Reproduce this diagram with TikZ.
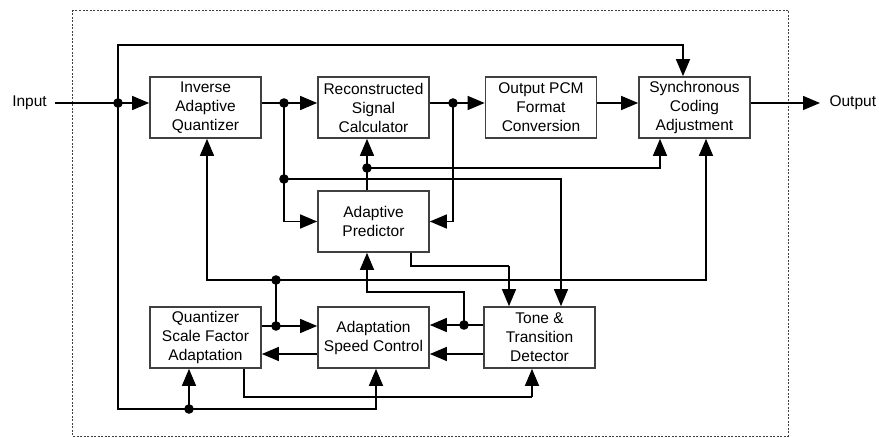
\documentclass[tikz,border=0pt]{standalone}
\usepackage{fontspec}
\setmainfont{Liberation Sans}
\usepackage{tikz}
\usetikzlibrary{calc, arrows.meta, positioning}
\definecolor{boxGray}{gray}{0.25}

\begin{document}
\begin{tikzpicture}[x=1pt, y=-1pt, >={Triangle[length=17pt, width=14pt]},
    blk/.style={draw=boxGray, line width=1.7pt, minimum width=111pt, minimum height=61pt,
                align=center, inner sep=0pt, font=\fontsize{15.5}{19}\selectfont},
    lbl/.style={font=\fontsize{15.5}{19}\selectfont},
    wire/.style={line width=1.4pt}]
    \useasboundingbox (0,0) rectangle (879,438);
    \draw[boxGray, line width=0.9pt, dash pattern=on 2pt off 1.5pt] (72,10) rectangle (788,436);

    % blocks
    \node[blk] (iaq)  at (205.5,107.5) {Inverse\\Adaptive\\Quantizer};
    \node[blk] (rsc)  at (373.5,107.5) {Reconstructed\\Signal\\Calculator};
    \node[blk] (opcm) at (541,107.5)   {Output PCM\\Format\\Conversion};
    \node[blk] (sca)  at (694.5,107.5) {Synchronous\\Coding\\Adjustment};
    \node[blk] (ap)   at (373.5,221.5) {Adaptive\\Predictor};
    \node[blk] (qsfa) at (205.5,337.5) {Quantizer\\Scale Factor\\Adaptation};
    \node[blk] (asc)  at (373.5,337.5) {Adaptation\\Speed Control};
    \node[blk] (ttd)  at (539.5,337.5) {Tone \&\\Transition\\Detector};

    \node[lbl] (in)  at (29.5,103) {Input};
    \node[lbl, anchor=west] (out) at (826,103) {Output};
    \coordinate (inp) at (55,103);
    \coordinate (outp) at (820,103);

    % junctions
    \coordinate (j1) at (118,103);
    \coordinate (j2) at (284,103);
    \coordinate (j3) at (453,103);
    \coordinate (j4) at (284,179);
    \coordinate (j5) at (367,168);
    \coordinate (j6) at (276,326);
    \coordinate (j7) at (276,280);
    \coordinate (j8) at (464,325);
    \coordinate (j9) at (189,409);
    % bends
    \coordinate (b1) at (411,266);
    \coordinate (b2) at (509,266);
    \coordinate (b3) at (244,397);
    \coordinate (b4) at (532,397);

    \begin{scope}[wire]
    % top row
    \draw (inp) -- (j1);
    \draw[->] (j1) -- (j1 -| iaq.west);
    \draw[->] (j1) |- (118,45) -| ([xshift=-11.5pt]sca.north);
    \draw[->] (j1) |- (j9) -| ([xshift=2.5pt]asc.south);
    \draw[->] (j9) -- (j9 |- qsfa.south);
    \draw (iaq.east |- j2) -- (j2);
    \draw[->] (j2) -- (j2 -| rsc.west);
    \draw[->] (j2) |- (ap.west);
    \draw[->] (j4) -| ([xshift=21.5pt]ttd.north);
    \draw (rsc.east |- j3) -- (j3);
    \draw[->] (j3) -- (j3 -| opcm.west);
    \draw[->] (j3) |- (ap.east);
    \draw[->] (opcm.east |- j3) -- (j3 -| sca.west);
    \draw[->] (sca.east |- outp) -- (outp);

    % predictor
    \draw[->] ([xshift=-6.5pt]ap.north) -- ([xshift=-6.5pt]rsc.south);
    \draw[->] (j5) -| ([xshift=-34.5pt]sca.south);
    \draw (b1 |- ap.south) -- (b1) -- (b2);
    \draw[->] (b2) -- (b2 |- ttd.north);

    % bottom row
    \draw (qsfa.east |- j6) -- (j6);
    \draw[->] (j6) -- (j6 -| asc.west);
    \draw (j6) -- (j7);
    \draw[->] (j7) -| ([xshift=1.5pt]iaq.south);
    \draw[->] (j7) -| ([xshift=11.5pt]sca.south);
    \draw (ttd.west |- j8) -- (j8);
    \draw[->] (j8) -- ++(0,-33) -| ([xshift=-6.5pt]ap.south);
    \draw[->] (j8) -- (j8 -| asc.east);
    \draw[->] ([yshift=-16.5pt]ttd.west) -- ([yshift=-16.5pt]asc.east);
    \draw[->] ([yshift=-16.5pt]asc.west) -- ([yshift=-16.5pt]qsfa.east);
    \draw (b3 |- qsfa.south) -- (b3) -- (b4);
    \draw[->] (b4) -- (b4 |- ttd.south);
    \end{scope}

    \foreach \j in {j1,j2,j3,j4,j5,j6,j7,j8,j9}
        \fill (\j) circle (4.8pt);
\end{tikzpicture}
\end{document}
